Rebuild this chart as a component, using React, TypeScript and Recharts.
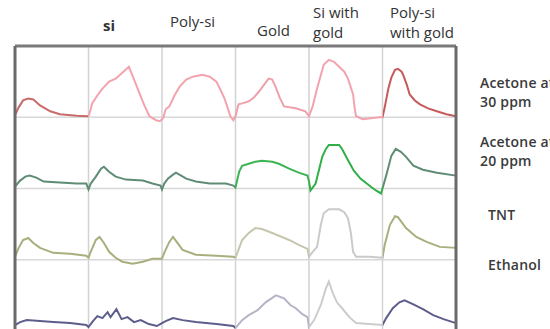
import React from "react";
import { LineChart, Line, XAxis, YAxis, ReferenceLine } from "recharts";

// sample columns (left to right) and analytes (top to bottom)
const columns = ["", "si", "Poly-si", "Gold", "Si with\ngold", "Poly-si\nwith gold"];
const analytes = ["Acetone at\n30 ppm", "Acetone at\n20 ppm", "TNT", "Ethanol"];

// [column position, response]
const acetone30: [number, number][] = [
  [0, 2], [0.05, 10], [0.11, 17], [0.18, 19], [0.25, 18], [0.34, 12], [0.48, 6], [0.61, 3], [0.84, 1.5], [1.0, 1],
  [1.03, 8], [1.05, 14], [1.12, 22], [1.19, 29], [1.28, 36], [1.37, 39], [1.46, 45], [1.55, 51], [1.62, 38], [1.69, 25], [1.76, 12], [1.83, 1], [1.92, -3], [1.97, -4], [2.0, -2],
  [2.02, 0], [2.05, 8], [2.1, 11], [2.17, 22], [2.24, 31], [2.33, 38], [2.42, 41], [2.55, 43], [2.65, 41], [2.74, 36], [2.8, 27], [2.85, 19], [2.9, 8], [2.93, 1], [2.97, -3], [3.0, 1],
  [3.04, 13], [3.09, 14], [3.18, 16], [3.25, 20], [3.32, 26], [3.39, 33], [3.45, 39], [3.5, 38], [3.55, 30], [3.6, 20], [3.66, 11], [3.82, 9], [3.95, 6], [3.99, 2],
  [4.0, 1], [4.05, 11], [4.11, 29], [4.2, 53], [4.27, 58], [4.34, 56], [4.41, 51], [4.48, 46], [4.53, 39], [4.57, 30], [4.6, 23], [4.62, 10], [4.64, 1], [4.73, -2], [4.96, 0], [5.0, 0],
  [5.03, 10], [5.08, 29], [5.12, 40], [5.17, 48], [5.21, 49], [5.26, 46], [5.28, 43], [5.33, 33], [5.37, 23], [5.44, 17], [5.51, 13], [5.62, 9], [5.74, 6], [5.87, 3], [6.0, 1],
];
const acetone20: [number, number][] = [
  [0, 2], [0.07, 8], [0.14, 12], [0.2, 13], [0.29, 11], [0.39, 7], [0.61, 6], [0.84, 5], [0.97, 5], [1.0, -1],
  [1.03, 5], [1.1, 12], [1.17, 20], [1.21, 22], [1.28, 17], [1.37, 12], [1.51, 9], [1.74, 8], [1.87, 5], [1.98, 3], [2.0, -1],
  [2.03, 5], [2.08, 10], [2.15, 14], [2.19, 16], [2.26, 13], [2.33, 10], [2.46, 7], [2.65, 5], [2.87, 5], [2.97, 3], [3.0, 1],
  [3.05, 17], [3.09, 23], [3.18, 25], [3.27, 27], [3.36, 28], [3.5, 27], [3.59, 25], [3.73, 20], [3.86, 16], [3.98, 13], [4.0, 7],
  [4.02, -2], [4.09, 5], [4.14, 20], [4.18, 32], [4.23, 40], [4.27, 44], [4.41, 44], [4.45, 40], [4.52, 30], [4.61, 18], [4.7, 10], [4.82, 3], [4.91, -2], [4.98, -5],
  [5.0, 0], [5.05, 13], [5.12, 33], [5.18, 40], [5.25, 37], [5.32, 32], [5.42, 23], [5.55, 19], [5.74, 16], [6.0, 13],
];
const tnt: [number, number][] = [
  [0, 3], [0.05, 12], [0.11, 20], [0.18, 22], [0.25, 17], [0.34, 12], [0.52, 7], [0.75, 6], [0.97, 4], [1.0, 2],
  [1.03, 8], [1.1, 20], [1.15, 23], [1.21, 17], [1.28, 8], [1.37, 2], [1.46, -2], [1.6, -4], [1.74, -2], [1.87, 1], [2.0, 1],
  [2.03, 7], [2.1, 18], [2.15, 23], [2.21, 17], [2.28, 10], [2.46, 5], [2.74, 4], [2.97, 3], [3.0, 2],
  [3.05, 12], [3.09, 20], [3.18, 27], [3.27, 32], [3.36, 31], [3.5, 27], [3.73, 20], [3.86, 15], [3.98, 11], [4.0, 3],
  [4.05, 8], [4.11, 13], [4.16, 35], [4.2, 47], [4.27, 51], [4.41, 51], [4.48, 48], [4.53, 42], [4.57, 27], [4.6, 8], [4.64, 3], [4.82, 3], [5.0, 2],
  [5.03, 15], [5.1, 35], [5.17, 44], [5.21, 43], [5.32, 32], [5.46, 23], [5.6, 18], [5.78, 13], [6.0, 12],
];
const ethanol: [number, number][] = [
  [0, 6], [0.07, 9], [0.16, 11], [0.34, 10], [0.52, 9], [0.75, 8], [0.97, 6], [1.0, 4],
  [1.05, 9], [1.12, 15], [1.19, 13], [1.26, 19], [1.3, 14], [1.38, 22], [1.45, 12], [1.53, 14], [1.62, 9], [1.71, 11], [1.82, 7], [1.93, 5], [2.0, 8],
  [2.05, 10], [2.15, 13], [2.28, 11], [2.46, 9], [2.74, 7], [2.97, 5], [3.0, 3],
  [3.09, 11], [3.18, 16], [3.3, 21], [3.41, 29], [3.55, 36], [3.66, 33], [3.75, 26], [3.82, 23], [3.91, 17], [3.98, 14], [4.0, 4],
  [4.07, 11], [4.16, 26], [4.23, 43], [4.27, 50], [4.32, 39], [4.38, 29], [4.45, 23], [4.55, 14], [4.64, 8], [4.82, 7], [5.0, 6],
  [5.05, 13], [5.14, 23], [5.23, 29], [5.3, 31], [5.42, 27], [5.55, 22], [5.69, 16], [5.83, 12], [6.0, 8],
];

const traces = [acetone30, acetone20, tnt, ethanol];
const ROW = 72;

// trace colour per column
const traceColors = [
  ["#c96a6a", "#f2a3ad", "#f2a3ad", "#f0a0aa", "#f2a3ad", "#c45a5a"],
  ["#5f8c74", "#5f8c74", "#5f8c74", "#3db453", "#30ae47", "#5f8c74"],
  ["#a9ae7c", "#a9ae7c", "#a9ae7c", "#c6c6ae", "#cacaca", "#a9ae7c"],
  ["#5d5d8c", "#5d5d8c", "#5d5d8c", "#b4b4c6", "#cccccc", "#5d5d8c"],
];

const rowData = traces.map((pts, i) => pts.map(([x, h]) => ({ x, y: (3 - i) * ROW + h })));

const colText: React.CSSProperties = {
  position: "absolute",
  fontFamily: "'Open Sans', sans-serif",
  fontSize: 15,
  lineHeight: "20px",
  color: "#333",
  whiteSpace: "pre",
};

const rowText: React.CSSProperties = {
  position: "absolute",
  fontFamily: "'Open Sans', sans-serif",
  fontSize: 14,
  fontWeight: 600,
  lineHeight: "19px",
  color: "#3a3a3a",
  whiteSpace: "pre",
  letterSpacing: 0.2,
};

export default function App() {
  return (
    <div style={{ position: "absolute", left: 0, top: 0, width: 550, height: 329, overflow: "hidden", background: "#fff" }}>
      <LineChart width={550} height={340} margin={{ top: 46, left: 15, right: 94, bottom: 9 }}>
        <defs>
          {traceColors.map((cols, i) => (
            <linearGradient key={i} id={`trace${i}`} x1="0" y1="0" x2="1" y2="0">
              {cols.flatMap((c, j) => [
                <stop key={`a${j}`} offset={j / 6} stopColor={c} />,
                <stop key={`b${j}`} offset={(j + 1) / 6} stopColor={c} />,
              ])}
            </linearGradient>
          ))}
        </defs>
        <XAxis type="number" dataKey="x" domain={[0, 6]} hide />
        <YAxis type="number" domain={[0, 4 * ROW]} hide />
        {[1, 2, 3, 4, 5].map((c) => (
          <ReferenceLine key={`v${c}`} x={c} stroke="#d2d2d2" strokeWidth={1.5} />
        ))}
        {[1, 2, 3].map((r) => (
          <ReferenceLine key={`h${r}`} y={r * ROW} stroke="#d8d8d8" strokeWidth={1.5} />
        ))}
        {rowData.map((d, i) => (
          <Line
            key={i}
            data={d}
            dataKey="y"
            type="linear"
            stroke={`url(#trace${i})`}
            strokeWidth={2}
            dot={false}
            isAnimationActive={false}
          />
        ))}
        <ReferenceLine y={4 * ROW} stroke="#7a7a7a" strokeWidth={3} />
        <ReferenceLine x={0} stroke="#6a6a6a" strokeWidth={3} />
        <ReferenceLine x={6} stroke="#6a6a6a" strokeWidth={3} />
      </LineChart>
      <div style={{ ...colText, left: 103, top: 15, fontWeight: 700 }}>{columns[1]}</div>
      <div style={{ ...colText, left: 170, top: 11 }}>{columns[2]}</div>
      <div style={{ ...colText, left: 257, top: 20 }}>{columns[3]}</div>
      <div style={{ ...colText, left: 313, top: 2 }}>{columns[4]}</div>
      <div style={{ ...colText, left: 390, top: 2 }}>{columns[5]}</div>
      <div style={{ ...rowText, left: 480, top: 73 }}>{analytes[0]}</div>
      <div style={{ ...rowText, left: 480, top: 132 }}>{analytes[1]}</div>
      <div style={{ ...rowText, left: 488, top: 205 }}>{analytes[2]}</div>
      <div style={{ ...rowText, left: 488, top: 255 }}>{analytes[3]}</div>
    </div>
  );
}
